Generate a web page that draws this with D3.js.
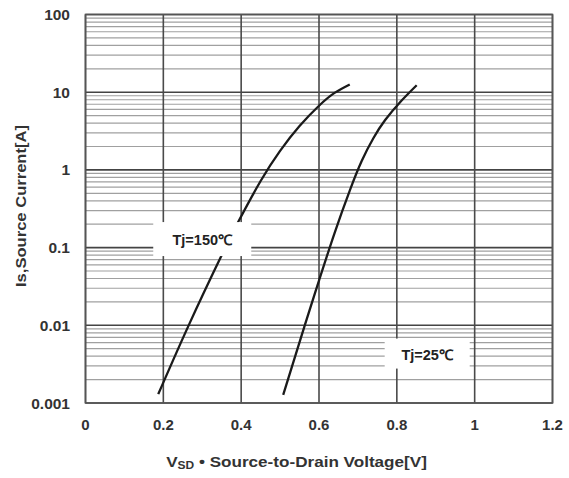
<!DOCTYPE html>
<html>
<head>
<meta charset="utf-8">
<script src="https://cdn.jsdelivr.net/npm/d3@7"></script>
<style>
  html, body { margin: 0; padding: 0; background: #fff; }
  svg { display: block; font-family: "Liberation Sans", Arial, sans-serif; }
</style>
</head>
<body>
<svg id="chart" width="569" height="478"></svg>
<script>
// ---- data ----
const xTicks = [0, 0.2, 0.4, 0.6, 0.8, 1, 1.2];
const xTickLabels = ["0", "0.2", "0.4", "0.6", "0.8", "1", "1.2"];
const yTicks = [0.001, 0.01, 0.1, 1, 10, 100];
const yTickLabels = ["0.001", "0.01", "0.1", "1", "10", "100"];

const v150 = [0.187, 0.266, 0.348, 0.395, 0.45, 0.50, 0.55, 0.60, 0.64, 0.679];
const i150 = [0.0013, 0.0102, 0.076, 0.226, 0.72, 1.76, 3.67, 6.7, 9.8, 12.6];
const v25  = [0.508, 0.564, 0.60, 0.64, 0.68, 0.71, 0.74, 0.77, 0.81, 0.851];
const i25  = [0.00127, 0.0102, 0.0376, 0.154, 0.558, 1.31, 2.57, 4.38, 7.6, 12.3];

const seriesLabels = ["Tj=150\u2103", "Tj=25\u2103"];
const labelPos = [[0.30, 0.125], [0.878, 0.0042]]; // data coords of label centres

// ---- layout ----
const svg = d3.select("#chart");
const L = 85.5, R = 552.5, T = 14.5, B = 403;
const x = d3.scaleLinear().domain([0, 1.2]).range([L, R]);
const y = d3.scaleLog().domain([0.001, 100]).range([B, T]);

// minor horizontal grid
const minor = [];
for (let e = -3; e < 2; e++) for (let k = 2; k <= 9; k++) minor.push(k * Math.pow(10, e));
svg.append("g").selectAll("line").data(minor).join("line")
  .attr("x1", L).attr("x2", R)
  .attr("y1", d => y(d)).attr("y2", d => y(d))
  .attr("stroke", "#a0a0a0").attr("stroke-width", 1.2);

// major horizontal grid
svg.append("g").selectAll("line").data(yTicks).join("line")
  .attr("x1", L).attr("x2", R)
  .attr("y1", d => y(d)).attr("y2", d => y(d))
  .attr("stroke", "#444").attr("stroke-width", 1.6);

// vertical grid
svg.append("g").selectAll("line").data(xTicks).join("line")
  .attr("x1", d => x(d)).attr("x2", d => x(d))
  .attr("y1", T).attr("y2", B)
  .attr("stroke", "#4a4a4a").attr("stroke-width", 1.6);

// border
svg.append("rect").attr("x", L).attr("y", T).attr("width", R - L).attr("height", B - T)
  .attr("fill", "none").attr("stroke", "#555").attr("stroke-width", 1.6);

// curves
const line = d3.line().x(d => x(d[0])).y(d => y(d[1])).curve(d3.curveNatural);
[[v150, i150], [v25, i25]].forEach(([vs, is]) => {
  svg.append("path").datum(vs.map((v, i) => [v, is[i]]))
    .attr("d", line).attr("fill", "none")
    .attr("stroke", "#1a1a1a").attr("stroke-width", 2.3);
});

// series labels with white boxes
const boxW = [98, 85], boxH = [34, 30];
seriesLabels.forEach((t, i) => {
  const cx = x(labelPos[i][0]), cy = y(labelPos[i][1]);
  svg.append("rect").attr("x", cx - boxW[i] / 2).attr("y", cy - boxH[i] / 2 - 1)
    .attr("width", boxW[i]).attr("height", boxH[i]).attr("fill", "#fff");
  svg.append("text").attr("x", cx).attr("y", cy + 5)
    .attr("text-anchor", "middle").attr("font-size", 14.5).attr("font-weight", "bold")
    .attr("fill", "#222").text(t);
});

// tick labels
svg.append("g").selectAll("text").data(yTicks).join("text")
  .attr("x", 70).attr("y", d => y(d) + 5.5)
  .attr("text-anchor", "end").attr("font-size", 15.5).attr("font-weight", "bold")
  .attr("fill", "#333").text((d, i) => yTickLabels[i]);
svg.append("g").selectAll("text").data(xTicks).join("text")
  .attr("x", d => x(d)).attr("y", 429.5)
  .attr("text-anchor", "middle").attr("font-size", 15).attr("font-weight", "bold")
  .attr("fill", "#333").text((d, i) => xTickLabels[i]);

// axis titles
const xt = svg.append("g").attr("transform", "translate(296.5,467) scale(1.14,1)")
  .append("text").attr("x", 0).attr("y", 0)
  .attr("text-anchor", "middle").attr("font-size", 15).attr("font-weight", "bold").attr("fill", "#333");
xt.append("tspan").text("V");
xt.append("tspan").attr("font-size", 10.5).attr("dy", 2).text("SD");
xt.append("tspan").attr("dy", -2).text(" \u2022  Source-to-Drain Voltage[V]");

svg.append("text").attr("transform", "translate(26,206) rotate(-90)")
  .attr("text-anchor", "middle").attr("font-size", 14).attr("font-weight", "bold")
  .attr("textLength", 162).attr("lengthAdjust", "spacingAndGlyphs")
  .attr("fill", "#333").text("Is,Source Current[A]");
</script>
</body>
</html>
